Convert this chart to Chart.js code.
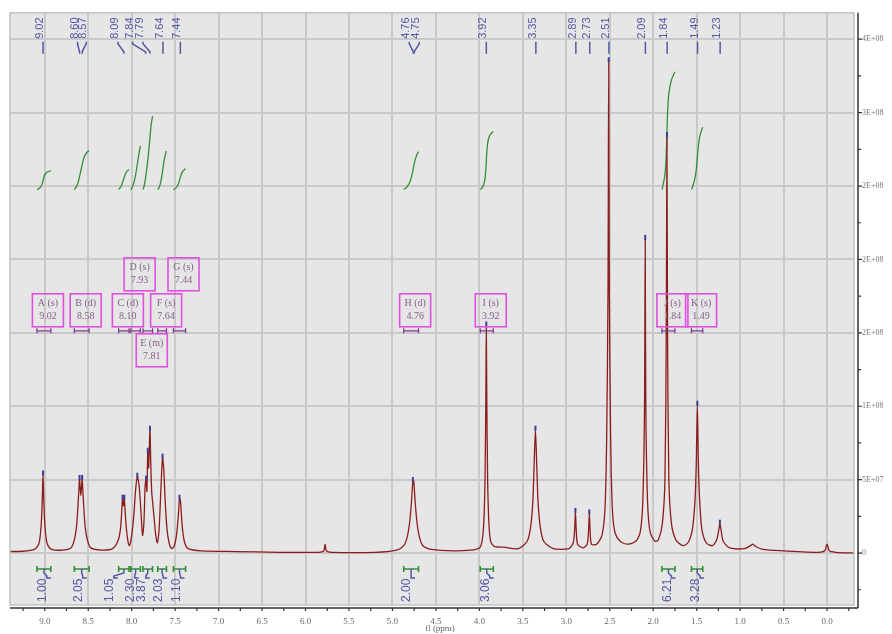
<!DOCTYPE html>
<html lang="en">
<head>
<meta charset="UTF-8">
<title>1H NMR spectrum</title>
<script src="https://cdn.jsdelivr.net/npm/chart.js"></script>
<style>
  html, body { margin: 0; padding: 0; background: #fff; }
  canvas { display: block; }
</style>
</head>
<body>
<canvas id="nmrChart" width="892" height="634"></canvas>
<script>
// spectrum trace: shift (ppm) and intensity (units of 1E+07)
const ppm = [
  9.40, 9.25, 9.12, 9.07, 9.05, 9.035, 9.025, 9.02, 9.015, 9.005, 8.99, 8.97, 8.92,
  8.80, 8.70, 8.66, 8.635, 8.62, 8.605, 8.60, 8.585, 8.57, 8.565, 8.55, 8.535, 8.51, 8.47,
  8.35, 8.22, 8.16, 8.13, 8.115, 8.105, 8.095, 8.085, 8.075, 8.06, 8.04, 8.025,
  8.00, 7.975, 7.955, 7.935, 7.915, 7.895, 7.875, 7.86, 7.845, 7.835, 7.825, 7.815,
  7.805, 7.79, 7.78, 7.77, 7.76, 7.745, 7.725, 7.705, 7.685, 7.665, 7.645, 7.63,
  7.615, 7.595, 7.57, 7.54, 7.51, 7.485, 7.465, 7.45, 7.44, 7.43, 7.415, 7.39, 7.35,
  7.20, 6.80, 6.30, 5.85, 5.79, 5.775, 5.76, 5.70, 5.20,
  4.95, 4.87, 4.83, 4.80, 4.78, 4.765, 4.755, 4.74, 4.72, 4.69, 4.65, 4.55, 4.30,
  4.10, 4.00, 3.97, 3.95, 3.935, 3.925, 3.92, 3.915, 3.905, 3.89, 3.87, 3.83, 3.72,
  3.55, 3.45, 3.41, 3.385, 3.37, 3.355, 3.34, 3.325, 3.30, 3.26, 3.15,
  2.97, 2.92, 2.905, 2.895, 2.885, 2.87, 2.81, 2.76, 2.745, 2.735, 2.725, 2.71,
  2.65, 2.59, 2.555, 2.535, 2.52, 2.512, 2.505, 2.49, 2.47, 2.44, 2.38, 2.30,
  2.20, 2.15, 2.12, 2.10, 2.092, 2.085, 2.065, 2.035, 1.98,
  1.94, 1.895, 1.865, 1.85, 1.842, 1.835, 1.82, 1.79, 1.74, 1.66,
  1.60, 1.55, 1.52, 1.505, 1.492, 1.48, 1.465, 1.44, 1.39, 1.32,
  1.27, 1.245, 1.233, 1.22, 1.195, 1.12, 0.95, 0.88, 0.855, 0.82, 0.74, 0.50,
  0.10, 0.025, 0.008, 0.0, -0.008, -0.025, -0.10, -0.31
];
const intensity = [
  0.10, 0.12, 0.25, 0.6, 1.3, 2.6, 4.4, 5.35, 4.4, 2.6, 1.3, 0.6, 0.25,
  0.2, 0.35, 0.9, 1.8, 3.0, 4.6, 5.05, 3.9, 5.05, 4.6, 3.0, 1.8, 0.9, 0.35,
  0.2, 0.3, 0.8, 1.6, 2.8, 3.7, 3.2, 3.7, 2.8, 1.6, 0.7, 0.5,
  1.2, 2.6, 4.3, 5.2, 4.6, 3.0, 1.2, 2.0, 4.6, 5.0, 4.2, 6.9,
  5.8, 8.4, 6.0, 4.2, 3.5, 2.6, 1.3, 0.7, 1.6, 4.2, 6.5, 5.6,
  3.6, 1.7, 0.7, 0.3, 0.5, 1.2, 2.4, 3.7, 3.6, 2.8, 1.6, 0.7, 0.3,
  0.15, 0.1, 0.05, 0.05, 0.15, 0.6, 0.15, 0.05, 0.05,
  0.2, 0.5, 1.1, 2.2, 3.6, 4.9, 4.9, 3.6, 2.2, 1.1, 0.5, 0.25, 0.15,
  0.2, 0.35, 0.8, 2.0, 5.0, 11.0, 15.5, 11.0, 5.0, 2.0, 0.8, 0.45, 0.4,
  0.3, 0.8, 1.8, 3.5, 6.0, 8.4, 6.0, 3.5, 1.8, 0.8, 0.3,
  0.3, 0.7, 1.5, 2.8, 1.5, 0.6, 0.35, 0.6, 1.4, 2.7, 1.4, 0.6,
  0.6, 1.2, 3.0, 8.0, 18, 33.5, 18, 8.0, 3.0, 1.4, 0.8, 0.6,
  0.8, 1.4, 3.5, 10, 21.4, 10, 3.5, 1.4, 0.8,
  0.9, 2.0, 5.0, 15, 28.4, 15, 5.0, 2.0, 0.9, 0.5,
  0.7, 1.6, 3.5, 6.0, 10.1, 6.0, 3.5, 1.6, 0.7, 0.5,
  0.9, 1.6, 2.0, 1.6, 0.8, 0.35, 0.3, 0.5, 0.6, 0.45, 0.25, 0.15,
  0.05, 0.15, 0.5, 0.6, 0.5, 0.15, 0.05, 0.0
];

// picked peaks
const peakLabels = [9.02, 8.60, 8.57, 8.09, 7.84, 7.79, 7.64, 7.44, 4.76, 4.75,
                    3.92, 3.35, 2.89, 2.73, 2.51, 2.09, 1.84, 1.49, 1.23];

// multiplets
const multipletNames = ['A', 'B', 'C', 'D', 'E', 'F', 'G', 'H', 'I', 'J', 'K'];
const multipletTypes = ['s', 'd', 'd', 's', 'm', 's', 's', 'd', 's', 's', 's'];
const multipletShifts = [9.02, 8.58, 8.10, 7.93, 7.81, 7.64, 7.44, 4.76, 3.92, 1.84, 1.49];
const rangeFrom = [9.09, 8.66, 8.15, 8.01, 7.87, 7.70, 7.52, 4.87, 3.99, 1.90, 1.56];
const rangeTo = [8.93, 8.49, 8.03, 7.90, 7.76, 7.60, 7.38, 4.70, 3.84, 1.75, 1.43];
const integrals = [1.00, 2.05, 1.05, 2.30, 3.87, 2.03, 1.10, 2.00, 3.06, 6.21, 3.28];

// right axis tick text, one per 5E+07 step from 0
const yTickLabels = ['0', '5E+07', '1E+08', '2E+08', '2E+08', '2E+08', '3E+08', '4E+08'];

// layout tweaks (pixels)
const peakLabelNudge = [0, -2, 4, -6, -13, -7, 0, 0, -4, 5, 0, 0, 0, 0, 0, 0, 0, 0, 0];
const integralLabelNudge = [0, -2, -13, -4, -5, -2, -2, -3, 0, 0, 0];
const boxRow = [0, 0, 0, -1, 1, 0, -1, 0, 0, 0, 0];

const SCALE = 1e7;
const Y_STEP = 5e7;
const INTEGRAL_BASE = 2.476e8;
const INTEGRAL_UNIT = 1.2925e7;

const BLUE = '#5357a6';
const GREEN = '#318f34';
const MAGENTA = '#e050e0';
const PURPLE = '#7d3d90';

const spectrum = ppm.map((p, i) => ({ x: p, y: intensity[i] * SCALE }));

function valueAt(p) {
  for (let i = 0; i < ppm.length - 1; i++) {
    if (ppm[i] >= p && ppm[i + 1] <= p) {
      const t = (ppm[i] - p) / (ppm[i] - ppm[i + 1]);
      return intensity[i] + t * (intensity[i + 1] - intensity[i]);
    }
  }
  return 0;
}

// running integral of the trace over each multiplet range
const integralSets = rangeFrom.map((hi, k) => {
  const lo = rangeTo[k];
  const xs = [hi];
  const vs = [valueAt(hi)];
  ppm.forEach((p, i) => { if (p < hi && p > lo) { xs.push(p); vs.push(intensity[i]); } });
  xs.push(lo); vs.push(valueAt(lo));
  const cum = [0];
  for (let i = 1; i < xs.length; i++) {
    cum.push(cum[i - 1] + (xs[i - 1] - xs[i]) * (vs[i - 1] + vs[i]) / 2);
  }
  const total = cum[cum.length - 1];
  return {
    data: xs.map((p, i) => ({ x: p, y: INTEGRAL_BASE + cum[i] / total * integrals[k] * INTEGRAL_UNIT })),
    borderColor: GREEN,
    borderWidth: 1.3,
    pointRadius: 0,
    tension: 0.3
  };
});

const annotate = {
  id: 'annotate',
  beforeDraw(chart) {
    const { ctx, chartArea: a } = chart;
    ctx.save();
    ctx.fillStyle = '#e6e6e6';
    ctx.fillRect(a.left, a.top, a.right - a.left, a.bottom - a.top);
    ctx.restore();
  },
  afterDatasetsDraw(chart) {
    const { ctx, chartArea: a, scales: { x, y } } = chart;
    ctx.save();

    // frame
    ctx.strokeStyle = '#c2c2c2';
    ctx.lineWidth = 1.5;
    ctx.strokeRect(a.left, a.top, a.right - a.left, a.bottom - a.top);

    // peak top markers
    ctx.strokeStyle = '#3c3c9a';
    ctx.lineWidth = 2;
    for (let i = 1; i < ppm.length - 1; i++) {
      if (intensity[i] > 1.5 && intensity[i] > intensity[i - 1] && intensity[i] >= intensity[i + 1]) {
        const px = x.getPixelForValue(ppm[i]);
        const py = y.getPixelForValue(intensity[i] * SCALE);
        ctx.beginPath();
        ctx.moveTo(px, py - 4);
        ctx.lineTo(px, py + 1);
        ctx.stroke();
      }
    }

    // peak labels at top
    ctx.fillStyle = BLUE;
    ctx.strokeStyle = BLUE;
    ctx.lineWidth = 1.5;
    ctx.font = '11px "Liberation Sans"';
    peakLabels.forEach((p, i) => {
      const px = x.getPixelForValue(p);
      const lx = px + peakLabelNudge[i];
      ctx.beginPath();
      ctx.moveTo(lx, a.top + 29);
      ctx.lineTo(lx, a.top + 31);
      ctx.lineTo(px, a.top + 39);
      ctx.lineTo(px, a.top + 41);
      ctx.stroke();
      ctx.save();
      ctx.translate(lx - 3, a.top + 26);
      ctx.rotate(-Math.PI / 2);
      ctx.textAlign = 'left';
      ctx.textBaseline = 'middle';
      ctx.fillText(p.toFixed(2), 0, 0);
      ctx.restore();
    });

    // multiplet boxes and range bars
    const barY = a.top + 318;
    multipletNames.forEach((name, i) => {
      const x1 = x.getPixelForValue(rangeFrom[i]);
      const x2 = x.getPixelForValue(rangeTo[i]);
      ctx.strokeStyle = PURPLE;
      ctx.lineWidth = 1.3;
      ctx.beginPath();
      ctx.moveTo(x1, barY); ctx.lineTo(x2, barY);
      ctx.moveTo(x1, barY - 2.5); ctx.lineTo(x1, barY + 2.5);
      ctx.moveTo(x2, barY - 2.5); ctx.lineTo(x2, barY + 2.5);
      ctx.stroke();

      const cx = (x1 + x2) / 2 + 4;
      const top = boxRow[i] === 0 ? barY - 37 : (boxRow[i] < 0 ? barY - 73 : barY + 3);
      ctx.strokeStyle = MAGENTA;
      ctx.lineWidth = 1.6;
      ctx.strokeRect(cx - 15.5, top, 31, 33);
      ctx.fillStyle = '#86608e';
      ctx.font = '10px "Liberation Serif"';
      ctx.textAlign = 'center';
      ctx.textBaseline = 'middle';
      ctx.fillText(name + ' (' + multipletTypes[i] + ')', cx, top + 10);
      ctx.fillText(multipletShifts[i].toFixed(2), cx, top + 23);
    });

    // integral bars and values at bottom
    const intY = a.bottom - 36;
    integrals.forEach((v, i) => {
      const x1 = x.getPixelForValue(rangeFrom[i]);
      const x2 = x.getPixelForValue(rangeTo[i]);
      const cx = (x1 + x2) / 2;
      const lx = cx + integralLabelNudge[i];
      ctx.strokeStyle = GREEN;
      ctx.lineWidth = 1.6;
      ctx.beginPath();
      ctx.moveTo(x1, intY); ctx.lineTo(x2, intY);
      ctx.moveTo(x1, intY - 3); ctx.lineTo(x1, intY + 3);
      ctx.moveTo(x2, intY - 3); ctx.lineTo(x2, intY + 3);
      ctx.stroke();
      ctx.strokeStyle = BLUE;
      ctx.lineWidth = 1.5;
      ctx.beginPath();
      ctx.moveTo(cx, intY);
      ctx.lineTo(cx, intY + 4);
      ctx.lineTo(lx + 3, intY + 7);
      ctx.lineTo(lx + 3, intY + 9);
      ctx.lineTo(lx + 7, intY + 9);
      ctx.stroke();
      ctx.fillStyle = BLUE;
      ctx.font = '12px "Liberation Sans"';
      ctx.save();
      ctx.translate(lx - 1, a.bottom - 3);
      ctx.rotate(-Math.PI / 2);
      ctx.textAlign = 'left';
      ctx.textBaseline = 'middle';
      ctx.fillText(v.toFixed(2), 0, 0);
      ctx.restore();
    });

    // axis lines with minor ticks
    ctx.strokeStyle = '#333';
    ctx.lineWidth = 1.5;
    const ax = a.bottom + 3;
    const ay = a.right + 4;
    ctx.beginPath();
    ctx.moveTo(a.left, ax); ctx.lineTo(ay, ax);
    ctx.moveTo(ay, a.top); ctx.lineTo(ay, ax);
    ctx.stroke();
    ctx.lineWidth = 1.2;
    ctx.beginPath();
    for (let k = -1; k <= 37; k++) {
      const px = x.getPixelForValue(k * 0.25);
      if (px < a.left || px > a.right) continue;
      ctx.moveTo(px, ax); ctx.lineTo(px, ax + 3);
    }
    for (let k = -1; k <= 14; k++) {
      const py = y.getPixelForValue(k * Y_STEP / 2);
      if (py < a.top || py > a.bottom) continue;
      ctx.moveTo(ay, py); ctx.lineTo(ay + (k % 2 === 0 ? 4 : 3), py);
    }
    ctx.stroke();

    // axis title
    ctx.fillStyle = '#666';
    ctx.font = '9px "Liberation Serif"';
    ctx.textAlign = 'center';
    ctx.textBaseline = 'middle';
    ctx.fillText('fl (ppm)', (a.left + a.right) / 2 + 8, 629);

    ctx.restore();
  }
};

const chartConfig = {
  type: 'line',
  data: {
    datasets: [
      {
        data: spectrum,
        borderColor: '#8b1c1c',
        borderWidth: 1.3,
        pointRadius: 0,
        tension: 0.25
      },
      ...integralSets
    ]
  },
  options: {
    responsive: false,
    animation: false,
    layout: { padding: { left: 10, top: 12, right: 0, bottom: 0 } },
    plugins: {
      legend: { display: false },
      tooltip: { enabled: false }
    },
    scales: {
      x: {
        type: 'linear',
        reverse: true,
        min: -0.31,
        max: 9.40,
        afterFit: s => { s.height = 29; },
        border: { display: false },
        grid: { color: '#c9c9c9', lineWidth: 2, drawTicks: false },
        ticks: {
          stepSize: 0.5,
          includeBounds: false,
          autoSkip: false,
          maxRotation: 0,
          padding: 11,
          color: '#666',
          font: { family: 'Liberation Serif', size: 9 },
          callback: v => v.toFixed(1)
        }
      },
      y: {
        type: 'linear',
        position: 'right',
        min: -3.54e7,
        max: 3.68e8,
        afterFit: s => { s.width = 38; },
        afterBuildTicks: s => { s.ticks = yTickLabels.map((t, i) => ({ value: i * Y_STEP })); },
        border: { display: false },
        grid: { color: '#c9c9c9', lineWidth: 2, drawTicks: false },
        ticks: {
          autoSkip: false,
          padding: 8,
          color: '#777',
          font: { family: 'Liberation Serif', size: 8 },
          callback: v => yTickLabels[Math.round(v / Y_STEP)]
        }
      }
    }
  },
  plugins: [annotate]
};

const nmrChart = new Chart(document.getElementById('nmrChart').getContext('2d'), chartConfig);
</script>
</body>
</html>
